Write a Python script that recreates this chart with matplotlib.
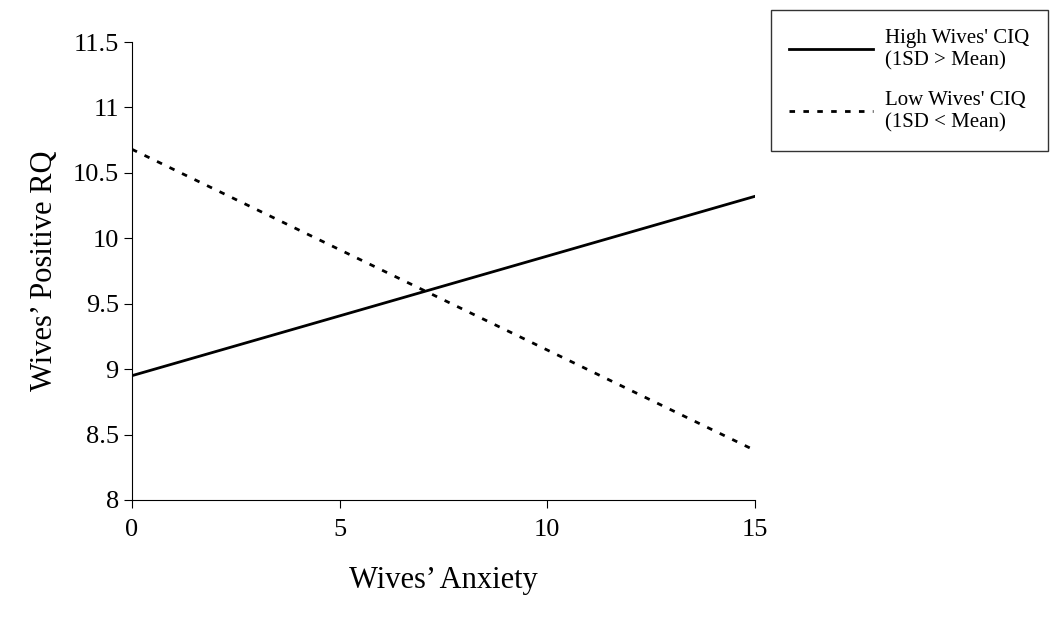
import matplotlib
matplotlib.use("Agg")
import matplotlib.pyplot as plt

anxiety = [0, 15]
high_ciq = [8.95, 10.32]
low_ciq = [10.68, 8.38]
x_ticks = [0, 5, 10, 15]
y_ticks = [8, 8.5, 9, 9.5, 10, 10.5, 11, 11.5]

plt.rcParams["font.family"] = "Liberation Serif"
fig = plt.figure(figsize=(10.5, 6.18), dpi=100)
ax = fig.add_axes([0.1257, 0.191, 0.593, 0.741])
l1, = ax.plot(anxiety, high_ciq, color="black", lw=2)
l2, = ax.plot(anxiety, low_ciq, color="black", lw=2, linestyle=(0, (2, 3)))
ax.set_xlim(0, 15)
ax.set_ylim(8, 11.5)
ax.set_xticks(x_ticks)
ax.set_yticks(y_ticks)
ax.set_yticklabels([f"{v:g}" for v in y_ticks])
for s in ["top", "right"]:
    ax.spines[s].set_visible(False)
ax.tick_params(labelsize=19, length=6, direction="out")
ax.tick_params(axis="x", pad=8)
ax.set_xlabel("Wives’ Anxiety", fontsize=22, labelpad=18)
ax.set_ylabel("Wives’ Positive RQ", fontsize=22, labelpad=10)
leg = fig.legend([l1, l2], ["High Wives' CIQ\n(1SD > Mean)", "Low Wives' CIQ\n(1SD < Mean)"],
                 loc="upper left", bbox_to_anchor=(0.724, 1.0), fontsize=15,
                 frameon=True, fancybox=False, edgecolor="black", handlelength=4,
                 labelspacing=1.0, borderpad=0.9, handletextpad=0.6)
leg.get_frame().set_linewidth(1)
fig.savefig("out.png", dpi=100)
